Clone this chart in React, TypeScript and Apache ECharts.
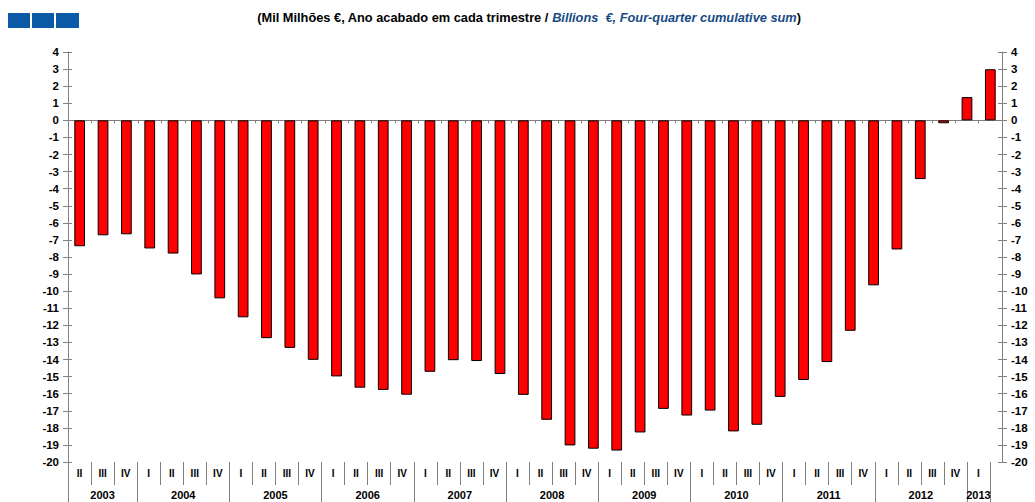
import React, { useEffect, useRef } from "react";
import * as echarts from "echarts";

const quarters: string[] = [
  "II", "III", "IV",
  "I", "II", "III", "IV",
  "I", "II", "III", "IV",
  "I", "II", "III", "IV",
  "I", "II", "III", "IV",
  "I", "II", "III", "IV",
  "I", "II", "III", "IV",
  "I", "II", "III", "IV",
  "I", "II", "III", "IV",
  "I", "II", "III", "IV",
  "I",
];
const years: string[] = ["2003", "2004", "2005", "2006", "2007", "2008", "2009", "2010", "2011", "2012", "2013"];
const quartersPerYear: number[] = [3, 4, 4, 4, 4, 4, 4, 4, 4, 4, 1];
const balance: number[] = [
  -7.37, -6.73, -6.67,
  -7.5, -7.8, -9.02, -10.42,
  -11.53, -12.75, -13.32, -14.02,
  -14.99, -15.65, -15.78, -16.06,
  -14.72, -14.04, -14.09, -14.85,
  -16.07, -17.53, -19.03, -19.22,
  -19.33, -18.27, -16.89, -17.28,
  -16.99, -18.21, -17.82, -16.19,
  -15.2, -14.15, -12.32, -9.66,
  -7.56, -3.44, -0.17, 1.36,
  2.99,
];
const yMin = -20;
const yMax = 4;

// half-quarter points for the year axis (boundaryGap false)
const yearPoints: string[] = [];
const yearBoundaries = new Set<number>();
(() => {
  const total = quartersPerYear.reduce((a, b) => a + b, 0) * 2;
  for (let i = 0; i <= total; i++) yearPoints.push("");
  let pos = 0;
  yearBoundaries.add(0);
  quartersPerYear.forEach((n, i) => {
    yearPoints[pos + n] = years[i];
    pos += n * 2;
    yearBoundaries.add(pos);
  });
})();

const FONT = "'Liberation Sans', Arial, sans-serif";
const GREY = "#808080";

export default function App() {
  const ref = useRef<HTMLDivElement>(null);
  useEffect(() => {
    if (!ref.current) return;
    const chart = echarts.init(ref.current, undefined, { renderer: "svg" });
    const yLabel = { color: "#000", fontWeight: "bold" as const, fontSize: 11.5, fontFamily: FONT, margin: 9 };
    chart.setOption({
      animation: false,
      backgroundColor: "#fff",
      title: {
        text: "{b|(Mil Milhões €, Ano acabado em cada trimestre / }{i|Billions  €, Four-quarter cumulative sum}{b|)}",
        left: 524,
        top: 6,
        textAlign: "center",
        textStyle: {
          rich: {
            b: { fontFamily: FONT, fontWeight: "bold", fontSize: 12.8, color: "#000" },
            i: { fontFamily: FONT, fontWeight: "bold", fontStyle: "italic", fontSize: 12.8, color: "#174a84" },
          },
        },
      },
      graphic: [
        { type: "rect", left: 8, top: 13, shape: { width: 22, height: 15 }, style: { fill: "#0a5aa6" } },
        { type: "rect", left: 32, top: 13, shape: { width: 22, height: 15 }, style: { fill: "#0a5aa6" } },
        { type: "rect", left: 56, top: 13, shape: { width: 23, height: 15 }, style: { fill: "#0a5aa6" } },
      ],
      grid: [
        { left: 68, right: 33, top: 52, bottom: 40 },
        { left: 68, right: 45, top: 52, bottom: 40 },
      ],
      xAxis: [
        {
          type: "category",
          gridIndex: 0,
          data: quarters,
          axisLine: { onZero: true, lineStyle: { color: GREY, width: 1 } },
          axisTick: { show: true, length: 3, lineStyle: { color: GREY } },
          axisLabel: { show: false },
          splitLine: { show: false },
        },
        {
          type: "category",
          gridIndex: 1,
          position: "bottom",
          data: quarters,
          axisLine: { show: false, onZero: false },
          axisTick: { show: true, length: 23, interval: 0, lineStyle: { color: GREY } },
          axisLabel: { interval: 0, color: "#000", fontWeight: "bold", fontSize: 10, fontFamily: FONT, margin: 6 },
        },
        {
          type: "category",
          gridIndex: 1,
          position: "bottom",
          boundaryGap: false,
          data: yearPoints,
          axisLine: { show: false, onZero: false },
          axisTick: {
            show: true,
            length: 40,
            interval: (idx: number) => yearBoundaries.has(idx),
            lineStyle: { color: GREY },
          },
          axisLabel: {
            interval: (_idx: number, v: string) => v !== "",
            color: "#000",
            fontWeight: "bold",
            fontSize: 11,
            fontFamily: FONT,
            margin: 27,
          },
        },
      ],
      yAxis: [
        {
          type: "value", gridIndex: 0, position: "left", min: yMin, max: yMax, interval: 1,
          axisLine: { show: true, lineStyle: { color: GREY } },
          axisTick: { show: true, length: 5, lineStyle: { color: GREY } },
          axisLabel: yLabel,
          splitLine: { show: false },
        },
        {
          type: "value", gridIndex: 0, position: "left", min: yMin, max: yMax, interval: 1,
          axisLine: { show: false },
          axisTick: { show: true, inside: true, length: 4, lineStyle: { color: GREY } },
          axisLabel: { show: false },
          splitLine: { show: false },
        },
        {
          type: "value", gridIndex: 0, position: "right", min: yMin, max: yMax, interval: 1,
          axisLine: { show: true, lineStyle: { color: GREY } },
          axisTick: { show: true, length: 5, lineStyle: { color: GREY } },
          axisLabel: yLabel,
          splitLine: { show: false },
        },
        {
          type: "value", gridIndex: 0, position: "right", min: yMin, max: yMax, interval: 1,
          axisLine: { show: false },
          axisTick: { show: true, inside: true, length: 4, lineStyle: { color: GREY } },
          axisLabel: { show: false },
          splitLine: { show: false },
        },
        {
          type: "value", gridIndex: 1, min: 0, max: 1, show: false,
        },
      ],
      series: [
        {
          type: "bar",
          xAxisIndex: 0,
          yAxisIndex: 0,
          data: balance,
          barWidth: "46%",
          itemStyle: { color: "#ff0000", borderColor: "#000", borderWidth: 1 },
        },
      ],
    });
    return () => chart.dispose();
  }, []);
  return (
    <div
      ref={ref}
      style={{ position: "fixed", left: 0, top: 0, width: 1035, height: 502, background: "#fff" }}
    />
  );
}
